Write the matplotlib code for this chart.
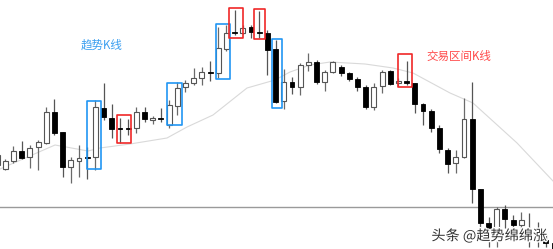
import matplotlib
matplotlib.use("Agg")
import matplotlib.pyplot as plt
import matplotlib.patheffects as pe
from matplotlib.patches import Rectangle

plt.rcParams['font.family'] = ['Noto Sans CJK SC', 'DejaVu Sans']

# candle data (index -1 is the partial bar at the left edge)
idx = list(range(-1, 68))
opens = [85, 81, 89.3, 99.3, 92.7, 102.7, 107.3, 138, 117.7, 82.7, 89.3,
         92.5, 92.7, 141.7, 132.3, 121, 121, 121.7, 138.3, 130, 132.3,
         125, 144.3, 162.7, 167.3, 171.7, 177.5, 176.7, 200.7, 216.7, 216.7,
         223.3, 217.7, 217.3, 201, 149, 168.3, 163.3, 185, 188.3, 167.7,
         177.7, 183.3, 177.3, 170.7, 163.3, 143.3, 164.3, 179, 166.7, 169,
         166.7, 146, 139.3, 121.7, 100, 86.7, 92.7, 130.7, 60.7, 27.3,
         20.7, 40.7, 30, 25, 17.3, 13.3, 10, 7]
highs = [100, 91, 104, 109.3, 105, 110, 142.7, 151, 117.7, 93.3, 105,
         103, 150, 166.7, 146, 131.7, 130.7, 143.3, 143.3, 134, 141.7,
         150, 168.3, 170, 181.7, 183.3, 189, 223.3, 225, 240, 225,
         225, 239, 220, 210, 180.7, 173.3, 186.7, 197.3, 190, 180,
         189.3, 185, 178.3, 173.3, 165, 167.3, 180, 180, 171.7, 189.3,
         167.3, 146.7, 140.7, 125, 101.7, 100, 151.7, 168.3, 60.7, 33.3,
         43.3, 45, 35, 38.3, 36.7, 28.3, 17, 9]
lows = [80, 80, 87.3, 91, 82.3, 80, 106, 115, 73.3, 66.7, 72.7,
        71.5, 80, 130, 111.7, 107.3, 115, 116.7, 128.3, 126, 128.3,
        122.3, 135, 158.3, 165, 165, 169, 171.7, 199.3, 215, 215.7,
        212.3, 212.3, 175, 146.7, 140.7, 156, 155, 179, 165.7, 159.3,
        176.7, 174, 169.3, 159.3, 140.7, 140, 156.7, 165, 164, 165,
        137.3, 125, 118.3, 96.7, 76.7, 76.7, 91.7, 46.7, 12, 3.3,
        3.3, 21.7, 20, 20, 3.3, 3.3, 3.3, 0]
closes = [95, 89.3, 99.3, 92, 101.7, 107.7, 138, 117.3, 82.7, 90, 91.7,
          92.5, 142.7, 132.7, 120.7, 121, 121, 138.3, 130.7, 132.3, 130.7,
          145, 161.7, 167.3, 171.7, 178.3, 177.3, 201.7, 216.7, 216.7, 222.3,
          218.3, 216.7, 200, 148.3, 168.3, 163.3, 185, 188.3, 168.3, 177.7,
          187.7, 177.3, 170.7, 163.3, 143.3, 163.3, 178.3, 166, 169.3, 166.7,
          146, 139.3, 121.7, 100.7, 86, 92.7, 130.7, 60.7, 26.7, 20,
          40.7, 30.7, 25, 30, 17.3, 13.3, 7.3, 1]

# moving average
ma_idx = [-0.65, 6.07, 10.1, 11.56, 15.23, 19.74, 22.19, 25.36, 29.51, 32.93,
          34.76, 37.2, 39.65, 43.92, 47.34, 49.78, 54.3, 57.1, 62.48, 66.87]
ma_val = [81, 105, 99, 102, 106, 112, 123, 135, 162, 170,
          178, 185, 188, 186, 182, 177, 157, 147, 107, 69]

support_level = 43

# marked bars: (left, right, bottom, top, kind)
boxes = [(9.94, 11.65, 81.3, 149.3, 'trend'),
         (13.68, 15.35, 106.7, 135, 'range'),
         (19.71, 21.54, 125, 167.3, 'trend'),
         (25.73, 27.44, 170.7, 225.7, 'trend'),
         (27.31, 28.99, 212.3, 241.7, 'range'),
         (30.4, 31.75, 211, 240.7, 'range'),
         (32.53, 33.75, 142.3, 210.7, 'trend'),
         (47.91, 49.69, 162.7, 196, 'range')]

box_color = {'trend': '#2196f3', 'range': '#f02828'}

fig = plt.figure(figsize=(5.53, 2.49), dpi=100)
ax = fig.add_axes([0, 0, 1, 1])
ax.set_xlim(-0.647, 66.87)
ax.set_ylim(1, 250)
ax.axis('off')

ax.plot(ma_idx, ma_val, color='#d9d9d9', lw=0.8, zorder=1)
ax.axhline(support_level, color='#9a9a9a', lw=1.0, zorder=1)

w = 0.6
for i, o, h, l, c in zip(idx, opens, highs, lows, closes):
    up = c > o
    if up:
        ax.vlines(i, l, h, color='#6a6a6a', lw=0.9, zorder=2)
        ax.bar(i, c - o, bottom=o, width=w, color='white',
               edgecolor='#555555', linewidth=0.8, zorder=3)
    else:
        ax.vlines(i, l, h, color='#555555', lw=0.9, zorder=2)
        ax.bar(i, max(o - c, 1.0), bottom=min(o, c), width=w, color='black',
               edgecolor='black', linewidth=0.6, zorder=3)

for x0, x1, y0, y1, kind in boxes:
    ax.add_patch(Rectangle((x0, y0), x1 - x0, y1 - y0, fill=False,
                           edgecolor=box_color[kind], lw=1.2,
                           joinstyle='round', zorder=4))

ax.text(102 / 553, 1 - 45 / 249, '趋势K线', transform=ax.transAxes,
        color='#3b9ff0', fontsize=8.3, ha='center', va='center')
ax.text(459 / 553, 1 - 56 / 249, '交易区间K线', transform=ax.transAxes,
        color='#ff4a4a', fontsize=8.3, ha='center', va='center')
ax.text(489 / 553, 1 - 236 / 249, '头条 @趋势绵绵涨', transform=ax.transAxes,
        color='#333333', fontsize=10.2, ha='center', va='center', zorder=6,
        path_effects=[pe.withStroke(linewidth=2, foreground='white')])

fig.savefig('out.png', dpi=100)
